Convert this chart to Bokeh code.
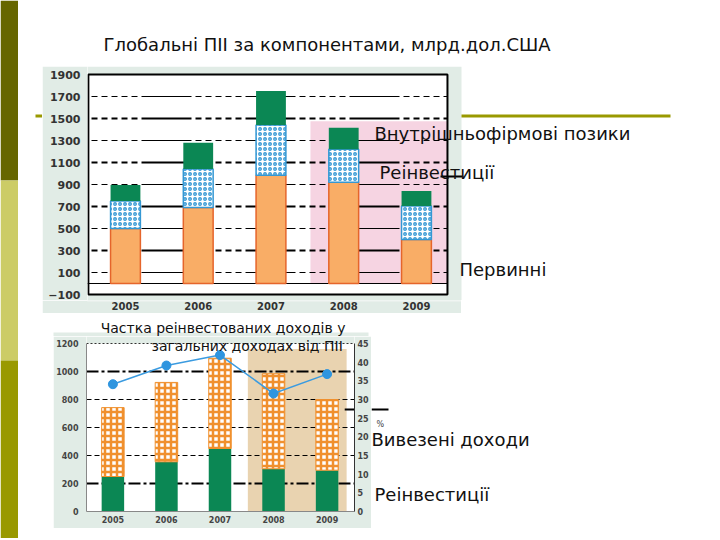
import numpy as np
from bokeh.plotting import figure
from bokeh.models import Range1d, LinearAxis, FixedTicker, Label
from bokeh.layouts import column, row
from bokeh.embed import file_html
from bokeh.resources import INLINE

# ---------------- data ----------------
years = ["2005", "2006", "2007", "2008", "2009"]
# chart 1: Глобальні ПІІ за компонентами, млрд.дол.США
primary = [500, 690, 985, 920, 400]        # Первинні
reinvest = [250, 350, 455, 300, 305]       # Реінвестиції
loans = [145, 240, 310, 195, 135]          # Внутрішньофірмові позики
y1_ticks = [-100, 100, 300, 500, 700, 900, 1100, 1300, 1500, 1700, 1900]
# chart 2
reinvest2 = [250, 355, 450, 305, 295]      # Реінвестиції
repatriated = [492, 567, 645, 679, 505]    # Вивезені доходи
share = [34.1, 39.1, 41.9, 31.6, 36.8]     # Частка реінвестованих доходів, %
y2_ticks = [0, 200, 400, 600, 800, 1000, 1200]
pct_ticks = [0, 5, 10, 15, 20, 25, 30, 35, 40, 45]

idx = np.arange(len(years))
labels_map = {int(i): y for i, y in zip(idx, years)}

STRIPE_TOP = "#666600"
STRIPE_MID = "#cccc66"
STRIPE_BOT = "#999900"
OLIVE = "#999900"
MINT = "#e1ece6"
PINK = "#f6d4e2"
TAN = "#e9d3b0"
ORANGE = "#f9ad66"
ORANGE_EDGE = "#e5652b"
GREEN = "#0b8754"
BLUE = "#3498d4"
HATCH_OR = "#f0902e"
LINE_BLUE = "#3b9be0"
TEXT = "#111111"
FONT = "DejaVu Sans"

PAGE_W, PAGE_H = 716, 538
CUT1 = 300   # slide row where chart 1's plot ends and its x axis strip begins


def panel(x0, x1, y0, y1, bg="white"):
    """A plain piece of the slide whose data coordinates are the slide's pixels."""
    f = figure(width=x1 - x0, height=y1 - y0, x_range=Range1d(x0, x1), y_range=Range1d(y1, y0),
               output_backend="svg", toolbar_location=None, min_border=0,
               x_axis_location=None, y_axis_location=None, frame_align=False,
               background_fill_color=bg, border_fill_color=bg)
    f.grid.visible = False
    f.outline_line_color = None
    return f


def text(p, x, y, s, size, align="left", font=FONT, color=TEXT, px=False):
    kw = dict(x_range_name="px", y_range_name="py") if px else {}
    p.add_layout(Label(x=x, y=y, text=s, text_font=font, text_font_size=f"{size}px",
                       text_align=align, text_baseline="middle", text_color=color, **kw))


def style_axis(ax, size, color="#333333"):
    ax.major_tick_line_color = None
    ax.minor_tick_line_color = None
    ax.major_tick_out = 0
    ax.major_tick_in = 0
    ax.minor_tick_out = 0
    ax.minor_tick_in = 0
    ax.major_label_text_font = "DejaVu Sans"
    ax.major_label_text_font_style = "bold"
    ax.major_label_text_font_size = f"{size}px"
    ax.major_label_text_color = color


# ---------------- left stripe ----------------
stripe = panel(0, 18, 0, PAGE_H)
stripe.quad(left=0, right=18, top=0, bottom=180, fill_color=STRIPE_TOP, line_color=None)
stripe.quad(left=0, right=18, top=180, bottom=360, fill_color=STRIPE_MID, line_color=None)
stripe.quad(left=0, right=18, top=360, bottom=PAGE_H, fill_color=STRIPE_BOT, line_color=None)

# ---------------- title ----------------
title_fig = panel(18, PAGE_W, 0, 66)
text(title_fig, 103, 44, "Глобальні ПІІ за компонентами, млрд.дол.США", 18)

# ---------------- chart 1 ----------------
left1 = panel(18, 42, 66, 313)
left1.quad(left=35, right=42, top=114, bottom=117, fill_color=OLIVE, line_color=None)

PX1 = 72.75                       # pixels per category
X1 = (-0.522, 4.426)              # plot area (data units)
XP = X1[0] + (461 - 87) / PX1     # right edge of the grey-green panel
XE = X1[0] + (716 - 87) / PX1     # right edge of the page
UPX = 2000 / 220                  # value units per pixel
Y1 = (-100 - (CUT1 - 294) * UPX, 1900 + 8 * UPX)

p1 = figure(width=PAGE_W - 42, height=CUT1 - 66, output_backend="svg", toolbar_location=None,
            x_range=Range1d(X1[0], XE), y_range=Range1d(*Y1),
            min_border_left=45, min_border_right=0, min_border_top=0, min_border_bottom=0,
            x_axis_location=None, frame_align=False,
            border_fill_color=MINT, background_fill_color="white")
p1.extra_x_ranges = {"px": Range1d(87, 716)}
p1.extra_y_ranges = {"py": Range1d(CUT1, 66)}
p1.grid.visible = False
p1.outline_line_color = None

p1.quad(left=X1[0], right=XP, bottom=Y1[0], top=Y1[1], fill_color=MINT, line_color=None)
p1.quad(left=X1[0], right=X1[1], bottom=-100, top=1900, fill_color="white", line_color=None)
p1.quad(left=2.543, right=X1[1], bottom=0, top=1475, fill_color=PINK, line_color=None)
minor = y1_ticks[1:-1:2]
major = y1_ticks[2:-1:2]
dash = "50 4 6 4 6 4 6 4 6 4 6 4"
p1.segment(x0=[X1[0]] * len(minor), x1=[X1[1]] * len(minor), y0=minor, y1=minor,
           line_color="black", line_width=1, line_dash=dash, line_dash_offset=50)
p1.segment(x0=[X1[0]] * len(major), x1=[X1[1]] * len(major), y0=major, y1=major,
           line_color="black", line_width=2, line_dash=dash, line_dash_offset=50)
p1.segment(x0=[X1[0]], x1=[X1[1]], y0=[0], y1=[0], line_color="black", line_width=1)

prim = np.array(primary)
rein = np.array(reinvest)
loan = np.array(loans)
bw1 = 0.41
p1.vbar(x=idx, bottom=0, top=prim, width=bw1, fill_color=ORANGE, line_color=ORANGE_EDGE, line_width=1.5)
p1.vbar(x=idx, bottom=prim, top=prim + rein, width=bw1, fill_color="white", line_color=BLUE,
        line_width=1.5, hatch_pattern="ring", hatch_color=BLUE, hatch_scale=5, hatch_weight=1.3)
p1.vbar(x=idx, bottom=prim + rein, top=prim + rein + loan, width=bw1, fill_color=GREEN, line_color=None)
p1.quad(left=X1[0] + 0.012, right=X1[1], bottom=-100, top=1900,
        fill_color=None, line_color="black", line_width=2)

p1.yaxis.ticker = FixedTicker(ticks=y1_ticks)
p1.yaxis.axis_line_color = None
style_axis(p1.yaxis[0], 11)
p1.yaxis.major_label_standoff = 7

# slide decorations and labels on the right
p1.quad(left=461, right=670, top=114, bottom=117, fill_color=OLIVE, line_color=None,
        x_range_name="px", y_range_name="py")
p1.quad(left=440, right=462, top=175, bottom=177, fill_color="black", line_color=None,
        x_range_name="px", y_range_name="py")
text(p1, 374, 133, "Внутрішньофірмові позики", 18, px=True)
text(p1, 379, 172, "Реінвестиції", 18, px=True)
text(p1, 459, 269, "Первинні", 18, px=True)

# x axis of chart 1 (same scale as the plot above)
p1ax = figure(width=461 - 42, height=313 - CUT1, output_backend="svg", toolbar_location=None,
              x_range=Range1d(X1[0], XP), y_range=Range1d(0, 1),
              min_border_left=45, min_border_right=0, min_border_top=0, min_border_bottom=313 - CUT1 - 1,
              y_axis_location=None, frame_align=False,
              border_fill_color=MINT, background_fill_color=MINT)
p1ax.grid.visible = False
p1ax.outline_line_color = None
p1ax.xaxis.ticker = FixedTicker(ticks=list(idx))
p1ax.xaxis.major_label_overrides = labels_map
p1ax.xaxis.axis_line_color = None
style_axis(p1ax.xaxis[0], 10)
p1ax.xaxis.major_label_standoff = 0
filler1 = panel(461, PAGE_W, CUT1, 313)

# ---------------- gap with the caption ----------------
gap = panel(18, PAGE_W, 313, 336)
gap.quad(left=53, right=368, top=332, bottom=336, fill_color=MINT, line_color=None)
text(gap, 345, 327, "Частка реінвестованих доходів у", 14, align="right")

# ---------------- chart 2 ----------------
left2 = panel(18, 53, 336, 528)

top2 = 1200 + (343 - 336) * 1200 / 168
p2 = figure(width=371 - 53, height=528 - 336, output_backend="svg", toolbar_location=None,
            x_range=Range1d(-0.493, 4.512), y_range=Range1d(0, top2),
            min_border_left=30, min_border_right=14, min_border_top=0, min_border_bottom=17,
            frame_align=False, border_fill_color=MINT, background_fill_color="white")
p2.extra_x_ranges = {"px": Range1d(83, 357)}
p2.extra_y_ranges = {"py": Range1d(511, 336), "pct": Range1d(0, 45 * top2 / 1200)}
p2.grid.visible = False
p2.outline_line_color = None

p2.quad(left=-0.493, right=4.512, bottom=1200, top=top2, fill_color=MINT, line_color=None)
p2.quad(left=2.52, right=4.365, bottom=0, top=1160, fill_color=TAN, line_color=None)
p2.hspan(y=[y2_ticks[-1]], line_color="#333333", line_width=1, line_dash="2 2")
p2.hspan(y=[y2_ticks[1], y2_ticks[5]], line_color="black", line_width=2, line_dash="12 3 3 3")
p2.hspan(y=y2_ticks[2:5], line_color="black", line_width=1, line_dash="5 3")

rein2 = np.array(reinvest2)
rep = np.array(repatriated)
bw2 = 0.42
p2.vbar(x=idx, bottom=0, top=rein2, width=bw2, fill_color=GREEN, line_color=None)
p2.vbar(x=idx, bottom=rein2, top=rein2 + rep, width=bw2, fill_color="white", line_color=HATCH_OR,
        line_width=1, hatch_pattern="cross", hatch_color=HATCH_OR, hatch_scale=6, hatch_weight=2.5)
p2.line(idx, share, y_range_name="pct", line_color=LINE_BLUE, line_width=1.5)
p2.scatter(idx, share, y_range_name="pct", size=9, fill_color="#2f95df", line_color="#2f95df")

ax_r = LinearAxis(y_range_name="pct", ticker=FixedTicker(ticks=pct_ticks), bounds=(0, 45))
p2.add_layout(ax_r, "right")
p2.yaxis[0].ticker = FixedTicker(ticks=y2_ticks)
p2.yaxis[0].bounds = (0, 1200)
p2.xaxis.ticker = FixedTicker(ticks=list(idx))
p2.xaxis.major_label_overrides = labels_map
for ax in (p2.xaxis[0], p2.yaxis[0], ax_r):
    ax.axis_line_color = "#888888"
    ax.axis_line_width = 1
    style_axis(ax, 8, "#444444")
ax_r.axis_line_color = "#333333"
p2.yaxis[0].major_label_standoff = 8
ax_r.major_label_standoff = 3
p2.xaxis.major_label_standoff = 4

text(p2, 345, 345, "загальних доходах від ПІІ", 14, align="right", px=True)
p2.quad(left=347, right=357, top=408, bottom=410, fill_color="black", line_color=None,
        x_range_name="px", y_range_name="py")

right2 = panel(371, PAGE_W, 336, 528)
right2.quad(left=371, right=388, top=408, bottom=410, fill_color="black", line_color=None)
text(right2, 371, 439, "Вивезені доходи", 18)
text(right2, 374, 494, "Реінвестиції", 18)
text(right2, 376, 424, "%", 8, font="DejaVu Sans", color="#444444")

bottom = panel(18, PAGE_W, 528, PAGE_H)

layout = row(stripe,
             column(title_fig,
                    row(left1, column(p1, row(p1ax, filler1))),
                    gap,
                    row(left2, p2, right2),
                    bottom))
open("out.html", "w").write(file_html(layout, INLINE))
